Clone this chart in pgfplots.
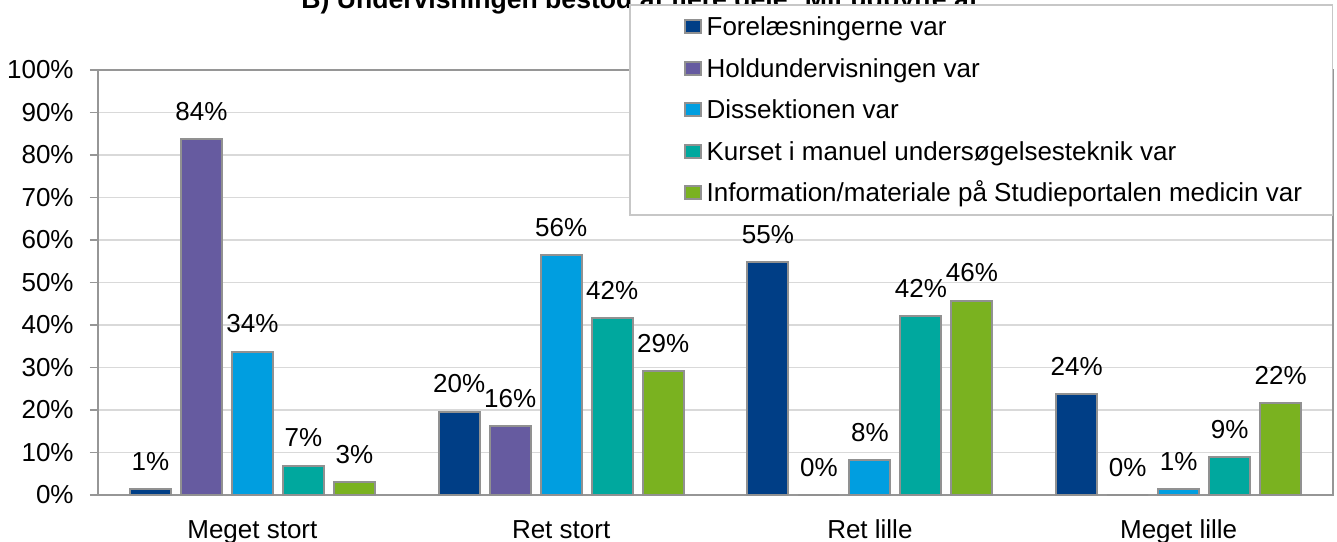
\documentclass[border=0pt]{standalone}
\usepackage{fontspec}
\setmainfont{Liberation Sans}
\usepackage{pgfplots}
\pgfplotsset{compat=1.18}

\definecolor{forel}{RGB}{0,62,134}
\definecolor{hold}{RGB}{102,91,160}
\definecolor{dissek}{RGB}{0,158,224}
\definecolor{kurset}{RGB}{0,168,158}
\definecolor{info}{RGB}{122,178,32}
\definecolor{barline}{RGB}{145,145,145}
\definecolor{axisgray}{RGB}{150,150,150}
\definecolor{gridgray}{RGB}{217,217,217}

\newcommand{\lbl}{\fontsize{13}{15.6}\selectfont}

% small square in the legend, as in the original
\pgfplotsset{
    sqlegend/.style={
        legend image code/.code={
            \path[draw=none, fill=none] (0pt,-3.25pt) rectangle (35.5pt,3.25pt);
            \draw[##1, line width=0.8pt] (27.5pt,-3.25pt) rectangle (35.5pt,3.25pt);
        },
    },
}

\begin{document}
\begin{tikzpicture}
% title sits partly under the legend and is cut at the top, as in the original
\node[anchor=base, inner sep=0pt, font=\bfseries\fontsize{13.3}{16}\selectfont]
  at (273pt,243pt) {B) Undervisningen bestod af flere dele. Mit udbytte af:};

\begin{axis}[
    at={(0pt,0pt)}, anchor=south west,
    scale only axis,
    width=617.5pt, height=212.5pt,
    ybar=5pt, bar width=20.5pt,
    xmin=-0.5, xmax=3.5,
    ymin=0, ymax=100,
    xtick={0,1,2,3},
    xticklabels={Meget stort, Ret stort, Ret lille, Meget lille},
    ytick={0,10,...,100},
    yticklabels={0\%,10\%,20\%,30\%,40\%,50\%,60\%,70\%,80\%,90\%,100\%},
    xtick pos=bottom, ytick pos=left,
    xtick style={draw=none},
    ytick style={draw=axisgray, line width=0.6pt},
    tick align=outside, major tick length=4pt,
    xticklabel style={font=\lbl, anchor=base, yshift=-17.5pt},
    yticklabel style={font=\lbl, anchor=east, inner sep=0pt, xshift=-8pt},
    ymajorgrids,
    major grid style={draw=gridgray, line width=0.6pt},
    axis line style={draw=axisgray, line width=1pt},
    every axis plot/.append style={draw=barline, line width=1pt},
    /pgf/number format/assume math mode=true,
    nodes near coords={\pgfmathprintnumber[fixed,precision=0]{\pgfplotspointmeta}\%},
    every node near coord/.append style={font=\lbl, anchor=south, inner sep=0pt, yshift=8.8pt, text=black},
    legend cell align=left,
    legend style={
        at={(0.43,1.1553)}, anchor=north west,
        draw=gridgray!80!gray, line width=0.8pt, fill=white,
        inner xsep=0pt, inner ysep=6pt,
        row sep=10.75pt,
        nodes={font=\lbl, inner sep=0pt, text height=9.5pt, text depth=0.5pt},
    },
]
\addplot[fill=forel, sqlegend] coordinates {(0,1.3) (1,19.6) (2,54.8) (3,23.8)};
\addlegendentry{\makebox[315.5pt][l]{\hspace{2.5pt}Forelæsningerne var}}
\addplot[fill=hold, sqlegend] coordinates {(0,83.7) (1,16.2) (2,0) (3,0)};
\addlegendentry{\makebox[315.5pt][l]{\hspace{2.5pt}Holdundervisningen var}}
\addplot[fill=dissek, sqlegend] coordinates {(0,33.7) (1,56.4) (2,8.2) (3,1.3)};
\addlegendentry{\makebox[315.5pt][l]{\hspace{2.5pt}Dissektionen var}}
\addplot[fill=kurset, sqlegend] coordinates {(0,6.9) (1,41.6) (2,42.1) (3,8.9)};
\addlegendentry{\makebox[315.5pt][l]{\hspace{2.5pt}Kurset i manuel undersøgelsesteknik var}}
\addplot[fill=info, sqlegend] coordinates {(0,3.06) (1,29.2) (2,45.7) (3,21.7)};
\addlegendentry{\makebox[315.5pt][l]{\hspace{2.5pt}Information/materiale på Studieportalen medicin var}}
\end{axis}

\pgfresetboundingbox
\useasboundingbox (-49pt,-23pt) rectangle (619.5pt,247.5pt);
\end{tikzpicture}
\end{document}
